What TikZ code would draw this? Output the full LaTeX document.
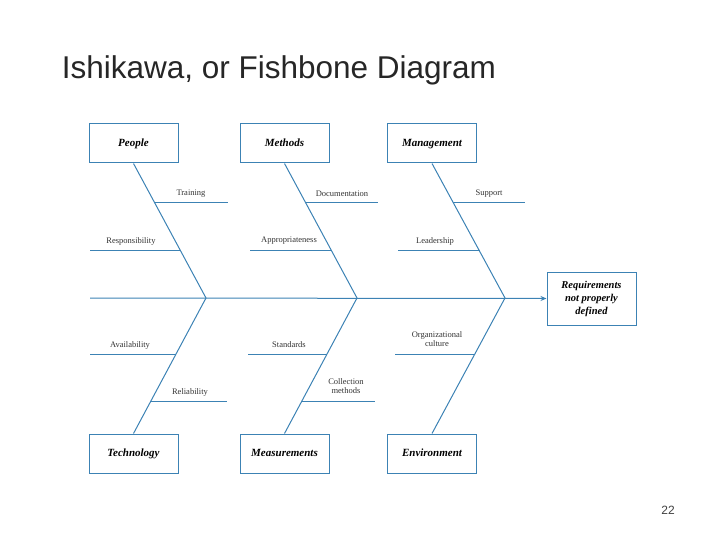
\documentclass[tikz,border=0pt]{standalone}
\usepackage{fontspec}
\setmainfont{Liberation Serif}
\setsansfont{Liberation Sans}
\usetikzlibrary{arrows.meta, calc}
\definecolor{bone}{HTML}{3C82B4}

\begin{document}
\begin{tikzpicture}[
    x=1pt, y=-1pt,
    >={Stealth[length=6pt,width=5pt]},
    line width=1pt,
    catbox/.style={draw=bone, minimum width=89pt, minimum height=39pt, inner sep=0pt, text height=8pt, text depth=2.5pt, font=\fontsize{11}{12}\selectfont\bfseries\itshape},
    causelabel/.style={font=\fontsize{8.5}{9.5}\selectfont, text=black!80, align=center},
    twig/.style={draw=bone}
]
\useasboundingbox (0,0) rectangle (720,540);

% Title and page number
\node[anchor=west, font=\sffamily\fontsize{31.5}{36}\selectfont, text=black!85] (title) at (58,70) {Ishikawa, or Fishbone Diagram};
\node[font=\sffamily\fontsize{12}{14}\selectfont, text=black!75] (page) at (668,510) {22};

% Category boxes
\node[catbox] (people) at (133.5,143.5) {People};
\node[catbox] (methods) at (284.5,143.5) {Methods};
\node[catbox] (management) at (432,143.5) {Management};
\node[catbox] (technology) at (133.5,453.5) {Technology};
\node[catbox] (measurements) at (284.5,453.5) {Measurements};
\node[catbox] (environment) at (432,453.5) {Environment};

% Effect box
\node[catbox, minimum height=53pt, text height=, text depth=, align=center, font=\fontsize{10.5}{13}\selectfont\bfseries\itshape] (effect) at (591.5,298.5) {Requirements\\not properly\\defined};

% Spine
\coordinate (tail) at (90,298);
\coordinate (j1) at (206,298);
\coordinate (j2) at (357,298);
\coordinate (j3) at (505,298);
\draw[bone, ->] (tail) -- (effect.west);

% Bones
\draw[bone] (people.south) -- (j1) -- (technology.north);
\draw[bone] (methods.south) -- (j2) -- (measurements.north);
\draw[bone] (management.south) -- (j3) -- (environment.north);

% Causes, upper half
\draw[twig] (155,203) -- (228,203);
\node[causelabel] (training) at (191,194) {Training};
\draw[twig] (90,250) -- (180,250);
\node[causelabel] (responsibility) at (131,241) {Responsibility};
\draw[twig] (306,203) -- (378,203);
\node[causelabel] (documentation) at (342,194) {Documentation};
\draw[twig] (250,250) -- (331,250);
\node[causelabel] (appropriateness) at (289,241) {Appropriateness};
\draw[twig] (453,203) -- (525,203);
\node[causelabel] (support) at (489,194) {Support};
\draw[twig] (398,250) -- (480,250);
\node[causelabel] (leadership) at (435,241) {Leadership};

% Causes, lower half
\draw[twig] (90,354) -- (176,354);
\node[causelabel] (availability) at (130,345) {Availability};
\draw[twig] (150,401) -- (227,401);
\node[causelabel] (reliability) at (190,392) {Reliability};
\draw[twig] (248,354) -- (327,354);
\node[causelabel] (standards) at (289,345) {Standards};
\draw[twig] (302,401) -- (375,401);
\node[causelabel] (collection) at (346,386) {Collection\\methods};
\draw[twig] (395,354) -- (475,354);
\node[causelabel] (culture) at (437,339) {Organizational\\culture};

\end{tikzpicture}
\end{document}
